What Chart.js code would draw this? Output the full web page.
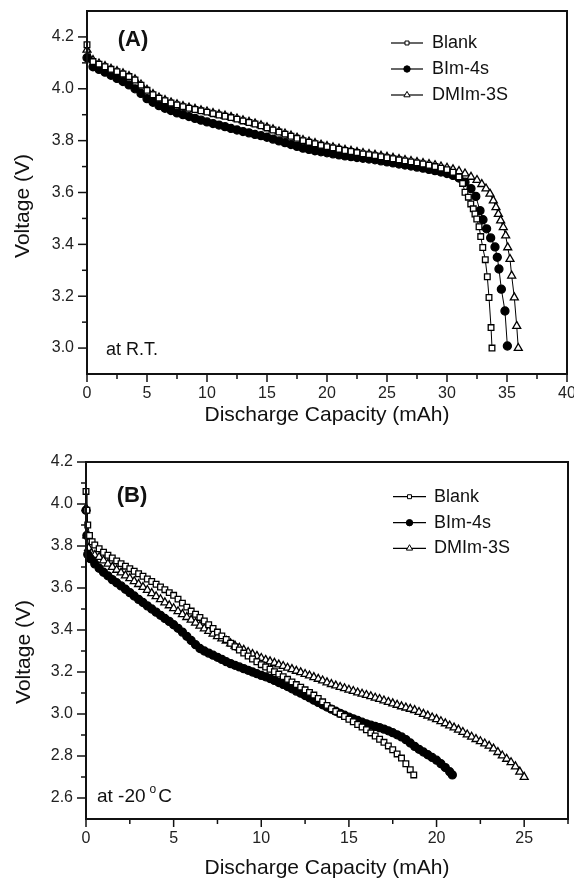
<!DOCTYPE html>
<html><head><meta charset="utf-8">
<script src="https://cdn.jsdelivr.net/npm/chart.js@4.4.0/dist/chart.umd.min.js"></script>
<style>
html,body{margin:0;padding:0;background:#fff;}
#wrap{position:relative;width:574px;height:878px;overflow:hidden;background:#fff;}
canvas{position:absolute;left:0;}
#cA{top:0;} #cB{top:440px;}
</style></head><body>
<div id="wrap"><canvas id="cA" width="574" height="440"></canvas><canvas id="cB" width="574" height="438"></canvas></div>
<script>
// ---------- Panel A (room temperature) ----------
const seriesNames = ['Blank', 'BIm-4s', 'DMIm-3S'];
const xTicksA = [0, 5, 10, 15, 20, 25, 30, 35, 40];
const yTicksA = [3.0, 3.2, 3.4, 3.6, 3.8, 4.0, 4.2];
const xTicksB = [0, 5, 10, 15, 20, 25];
const yTicksB = [2.6, 2.8, 3.0, 3.2, 3.4, 3.6, 3.8, 4.0, 4.2];

const capA_blank = [0,0.5,1,1.5,2,2.5,3,3.5,4,4.5,5,5.5,6,6.5,7,7.5,8,8.5,9,9.5,10,10.5,11,11.5,12,12.5,13,13.5,14,14.5,15,15.5,16,16.5,17,17.5,18,18.5,19,19.5,20,20.5,21,21.5,22,22.5,23,23.5,24,24.5,25,25.5,26,26.5,27,27.5,28,28.5,29,29.5,30,30.5,31,31.3,31.5,31.78,31.98,32.19,32.33,32.48,32.67,32.81,32.98,33.19,33.36,33.5,33.67,33.75];
const voltA_blank = [4.17,4.105,4.095,4.085,4.075,4.066,4.057,4.047,4.034,4.014,3.994,3.977,3.964,3.954,3.945,3.938,3.931,3.925,3.92,3.915,3.91,3.904,3.899,3.894,3.889,3.883,3.876,3.87,3.864,3.857,3.849,3.841,3.833,3.825,3.817,3.809,3.8,3.794,3.788,3.782,3.777,3.772,3.767,3.762,3.758,3.754,3.749,3.746,3.742,3.738,3.734,3.73,3.726,3.722,3.718,3.714,3.71,3.705,3.7,3.694,3.688,3.678,3.66,3.635,3.601,3.582,3.556,3.537,3.517,3.498,3.468,3.43,3.388,3.341,3.275,3.195,3.079,3.0];

const capA_bim = [0,0.5,1,1.5,2,2.5,3,3.5,4,4.5,5,5.5,6,6.5,7,7.5,8,8.5,9,9.5,10,10.5,11,11.5,12,12.5,13,13.5,14,14.5,15,15.5,16,16.5,17,17.5,18,18.5,19,19.5,20,20.5,21,21.5,22,22.5,23,23.5,24,24.5,25,25.5,26,26.5,27,27.5,28,28.5,29,29.5,30,30.5,31,31.5,32,32.4,32.75,33.0,33.3,33.64,34.0,34.19,34.33,34.53,34.83,35.03];
const voltA_bim = [4.12,4.085,4.075,4.064,4.052,4.04,4.028,4.015,4.0,3.982,3.962,3.948,3.935,3.925,3.916,3.907,3.9,3.893,3.886,3.879,3.872,3.866,3.86,3.854,3.847,3.841,3.835,3.83,3.824,3.819,3.813,3.806,3.799,3.792,3.785,3.778,3.771,3.766,3.761,3.757,3.753,3.749,3.745,3.741,3.738,3.735,3.732,3.729,3.726,3.722,3.718,3.714,3.71,3.706,3.702,3.698,3.694,3.689,3.684,3.679,3.673,3.666,3.656,3.64,3.615,3.585,3.53,3.495,3.46,3.425,3.39,3.35,3.305,3.227,3.143,3.008];

const capA_dmim = [0,0.5,1,1.5,2,2.5,3,3.5,4,4.5,5,5.5,6,6.5,7,7.5,8,8.5,9,9.5,10,10.5,11,11.5,12,12.5,13,13.5,14,14.5,15,15.5,16,16.5,17,17.5,18,18.5,19,19.5,20,20.5,21,21.5,22,22.5,23,23.5,24,24.5,25,25.5,26,26.5,27,27.5,28,28.5,29,29.5,30,30.5,31,31.5,32,32.5,32.9,33.25,33.58,33.86,34.08,34.28,34.47,34.69,34.89,35.06,35.25,35.39,35.61,35.81,35.94];
const voltA_dmim = [4.15,4.11,4.097,4.087,4.077,4.068,4.059,4.049,4.036,4.016,3.996,3.979,3.966,3.956,3.947,3.94,3.933,3.927,3.922,3.917,3.912,3.906,3.901,3.896,3.891,3.885,3.878,3.872,3.866,3.859,3.851,3.843,3.835,3.827,3.819,3.811,3.802,3.796,3.79,3.784,3.779,3.774,3.769,3.764,3.76,3.756,3.752,3.748,3.745,3.741,3.737,3.733,3.729,3.725,3.721,3.717,3.713,3.709,3.705,3.7,3.695,3.689,3.682,3.673,3.66,3.648,3.632,3.615,3.595,3.569,3.543,3.517,3.492,3.466,3.434,3.388,3.343,3.279,3.195,3.085,3.0];

// ---------- Panel B (-20 °C) ----------
const capB_blank = [0,0.05,0.1,0.2,0.35,0.5,0.75,1,1.25,1.5,1.75,2,2.25,2.5,2.75,3,3.25,3.5,3.75,4,4.25,4.5,4.75,5,5.25,5.5,5.75,6,6.25,6.5,6.75,7,7.25,7.5,7.75,8,8.25,8.5,8.75,9,9.25,9.5,9.75,10,10.25,10.5,10.75,11,11.25,11.5,11.75,12,12.25,12.5,12.75,13,13.25,13.5,13.75,14,14.25,14.5,14.75,15,15.25,15.5,15.75,16,16.25,16.5,16.75,17,17.25,17.5,17.75,18,18.25,18.5,18.7];
const voltB_blank = [4.06,3.97,3.90,3.85,3.82,3.805,3.787,3.77,3.756,3.743,3.729,3.716,3.704,3.692,3.68,3.668,3.656,3.643,3.631,3.618,3.605,3.592,3.578,3.565,3.547,3.528,3.509,3.49,3.475,3.46,3.443,3.425,3.407,3.39,3.372,3.355,3.337,3.32,3.305,3.29,3.276,3.262,3.249,3.235,3.224,3.213,3.201,3.19,3.178,3.165,3.153,3.14,3.128,3.115,3.103,3.09,3.074,3.058,3.041,3.025,3.012,3.0,2.988,2.975,2.963,2.95,2.938,2.925,2.91,2.895,2.88,2.865,2.848,2.83,2.81,2.79,2.763,2.735,2.71];

const capB_bim = [0,0.05,0.1,0.25,0.5,0.75,1,1.25,1.5,1.75,2,2.25,2.5,2.75,3,3.25,3.5,3.75,4,4.25,4.5,4.75,5,5.25,5.5,5.75,6,6.25,6.5,6.75,7,7.25,7.5,7.75,8,8.25,8.5,8.75,9,9.25,9.5,9.75,10,10.25,10.5,10.75,11,11.25,11.5,11.75,12,12.25,12.5,12.75,13,13.25,13.5,13.75,14,14.25,14.5,14.75,15,15.25,15.5,15.75,16,16.25,16.5,16.75,17,17.25,17.5,17.75,18,18.25,18.5,18.75,19,19.25,19.5,19.75,20,20.25,20.5,20.75,20.9];
const voltB_bim = [3.97,3.85,3.76,3.74,3.715,3.694,3.675,3.658,3.64,3.625,3.61,3.594,3.578,3.562,3.546,3.531,3.515,3.5,3.485,3.47,3.455,3.441,3.425,3.408,3.39,3.37,3.35,3.33,3.312,3.3,3.29,3.28,3.27,3.26,3.249,3.24,3.232,3.224,3.216,3.208,3.2,3.192,3.184,3.177,3.169,3.16,3.15,3.141,3.131,3.12,3.109,3.099,3.088,3.077,3.066,3.055,3.044,3.033,3.023,3.013,3.003,2.994,2.985,2.977,2.969,2.961,2.953,2.947,2.941,2.935,2.928,2.92,2.911,2.901,2.891,2.878,2.862,2.846,2.832,2.819,2.806,2.793,2.78,2.763,2.745,2.725,2.71];

const capB_dmim = [0,0.05,0.15,0.3,0.5,0.75,1,1.25,1.5,1.75,2,2.25,2.5,2.75,3,3.25,3.5,3.75,4,4.25,4.5,4.75,5,5.25,5.5,5.75,6,6.25,6.5,6.75,7,7.25,7.5,7.75,8,8.25,8.5,8.75,9,9.25,9.5,9.75,10,10.25,10.5,10.75,11,11.25,11.5,11.75,12,12.25,12.5,12.75,13,13.25,13.5,13.75,14,14.25,14.5,14.75,15,15.25,15.5,15.75,16,16.25,16.5,16.75,17,17.25,17.5,17.75,18,18.25,18.5,18.75,19,19.25,19.5,19.75,20,20.25,20.5,20.75,21,21.25,21.5,21.75,22,22.25,22.5,22.75,23,23.25,23.5,23.75,24,24.25,24.5,24.75,25];
const voltB_dmim = [3.98,3.85,3.79,3.765,3.757,3.747,3.731,3.715,3.7,3.686,3.673,3.659,3.646,3.632,3.618,3.604,3.59,3.575,3.56,3.546,3.531,3.517,3.503,3.489,3.475,3.461,3.448,3.434,3.42,3.407,3.395,3.382,3.37,3.359,3.348,3.336,3.325,3.315,3.305,3.295,3.285,3.276,3.266,3.257,3.25,3.243,3.235,3.228,3.22,3.213,3.205,3.198,3.19,3.183,3.175,3.167,3.159,3.15,3.142,3.135,3.128,3.122,3.115,3.109,3.102,3.096,3.09,3.084,3.077,3.071,3.064,3.057,3.05,3.043,3.036,3.03,3.024,3.018,3.009,3.0,2.992,2.983,2.975,2.965,2.955,2.945,2.935,2.925,2.914,2.902,2.891,2.88,2.87,2.859,2.848,2.835,2.818,2.802,2.786,2.77,2.75,2.725,2.7];

// ---------- helpers ----------
const FONT = '"Liberation Sans", Arial, Helvetica, sans-serif';
Chart.defaults.font.family = FONT;
Chart.defaults.color = '#1a1a1a';

function pts(xs, ys){ const n = Math.min(xs.length, ys.length); const o=[]; for(let i=0;i<n;i++) o.push({x:xs[i], y:ys[i]}); return o; }
function near(v, list){ return list.some(t => Math.abs(t - v) < 1e-6); }

const styles = [
  {pointStyle:'rect', radius:4.0, bg:'#ffffff', legR:2.8},
  {pointStyle:'circle', radius:4.0, bg:'#000000', legR:3.2},
  {pointStyle:'triangle', radius:4.6, bg:'#ffffff', legR:3.6}
];

function makeDatasets(list){
  return list.map((d,i)=>({
    label: seriesNames[i],
    data: d,
    showLine: true,
    borderColor: '#000',
    borderWidth: 1,
    tension: 0,
    pointStyle: styles[i].pointStyle,
    pointRadius: styles[i].radius,
    pointBackgroundColor: styles[i].bg,
    pointBorderColor: '#000',
    pointBorderWidth: 1.3,
    clip: false
  }));
}

const decor = {
  id: 'decor',
  afterDraw(chart, args, o){
    const ctx = chart.ctx, a = chart.chartArea;
    const xs = chart.scales.x, ys = chart.scales.y;
    ctx.save();
    ctx.strokeStyle = '#111';
    ctx.lineWidth = 1.5;
    xs.ticks.forEach(t=>{
      const major = near(t.value, o.xMajor);
      const p = xs.getPixelForValue(t.value);
      ctx.beginPath(); ctx.moveTo(p, a.bottom); ctx.lineTo(p, a.bottom + (major ? 8 : 5)); ctx.stroke();
    });
    ys.ticks.forEach(t=>{
      const major = near(t.value, o.yMajor);
      if (!major && (Math.abs(t.value - ys.min) < 1e-6 || Math.abs(t.value - ys.max) < 1e-6)) return;
      const p = ys.getPixelForValue(t.value);
      ctx.beginPath(); ctx.moveTo(a.left, p); ctx.lineTo(a.left - (major ? 9 : 5), p); ctx.stroke();
    });
    ctx.lineWidth = 2;
    ctx.strokeRect(a.left, a.top, a.right - a.left, a.bottom - a.top);

    ctx.fillStyle = '#111';
    ctx.font = 'bold 22px ' + FONT;
    ctx.textAlign = 'center'; ctx.textBaseline = 'middle';
    ctx.fillText(o.panel, o.panelX, o.panelY);
    ctx.font = '21px ' + FONT;
    ctx.fillText('Discharge Capacity (mAh)', o.xTitleX, o.xTitleY);
    ctx.save();
    ctx.translate(o.yTitleX, o.yTitleY); ctx.rotate(-Math.PI/2);
    ctx.fillText('Voltage (V)', 0, 0);
    ctx.restore();
    ctx.textAlign = 'left'; ctx.textBaseline = 'alphabetic';
    ctx.font = o.condSize + 'px ' + FONT;
    ctx.fillText(o.cond, o.condX, o.condY);
    if (o.sup){
      let x = o.condX + ctx.measureText(o.cond).width + 4;
      ctx.font = '12px ' + FONT;
      ctx.fillText(o.sup, x, o.condY - 9);
      x += ctx.measureText(o.sup).width + 2;
      ctx.font = o.condSize + 'px ' + FONT;
      ctx.fillText(o.supAfter, x, o.condY);
    }
    chart.data.datasets.forEach((ds,i)=>{
      const y = o.legY[i];
      ctx.strokeStyle = '#000'; ctx.lineWidth = 1.2;
      ctx.beginPath(); ctx.moveTo(o.legX0, y); ctx.lineTo(o.legX1, y); ctx.stroke();
      ctx.fillStyle = styles[i].bg; ctx.strokeStyle = '#000'; ctx.lineWidth = 1;
      Chart.helpers.drawPoint(ctx, {pointStyle: styles[i].pointStyle, radius: styles[i].legR, borderWidth: 1, rotation: 0}, (o.legX0 + o.legX1)/2, y);
      ctx.fillStyle = '#111';
      ctx.font = '18px ' + FONT; ctx.textBaseline = 'middle'; ctx.textAlign = 'left';
      ctx.fillText(ds.label, o.legTextX, y);
    });
    ctx.restore();
  }
};

function makeChart(id, datasets, cfg){
  return new Chart(document.getElementById(id), {
    type: 'scatter',
    data: { datasets },
    options: {
      responsive: false,
      devicePixelRatio: 1,
      animation: false,
      layout: { padding: cfg.pad },
      plugins: { legend: {display:false}, tooltip: {enabled:false}, decor: cfg.decor },
      scales: {
        x: {
          type: 'linear', min: cfg.xmin, max: cfg.xmax,
          grid: { display: false, drawTicks: false },
          border: { display: false },
          ticks: {
            stepSize: 2.5, autoSkip: false, maxRotation: 0, padding: 10,
            color: '#222', font: { size: 16 },
            callback: v => near(v, cfg.decor.xMajor) ? String(Math.round(v)) : ''
          },
          afterFit(s){ s.height = cfg.xh; s.paddingLeft = 0; s.paddingRight = 0; }
        },
        y: {
          type: 'linear', min: cfg.ymin, max: cfg.ymax,
          grid: { display: false, drawTicks: false },
          border: { display: false },
          ticks: {
            stepSize: 0.1, autoSkip: false, padding: 13,
            color: '#222', font: { size: 16 },
            callback: v => near(v, cfg.decor.yMajor) ? v.toFixed(1) : ''
          },
          afterFit(s){ s.width = cfg.yw; s.paddingTop = 0; s.paddingBottom = 0; }
        }
      }
    },
    plugins: [decor]
  });
}

makeChart('cA', makeDatasets([pts(capA_blank, voltA_blank), pts(capA_bim, voltA_bim), pts(capA_dmim, voltA_dmim)]), {
  pad: {top: 11, right: 7, left: 0, bottom: 0},
  xmin: 0, xmax: 40, ymin: 2.9, ymax: 4.3, xh: 66, yw: 87,
  decor: {
    xMajor: xTicksA, yMajor: yTicksA,
    panel: '(A)', panelX: 133, panelY: 39.5,
    xTitleX: 327, xTitleY: 415, yTitleX: 23, yTitleY: 206,
    cond: 'at R.T.', condSize: 18, condX: 106, condY: 355,
    legY: [43, 69, 95], legX0: 391, legX1: 423, legTextX: 432
  }
});

makeChart('cB', makeDatasets([pts(capB_blank, voltB_blank), pts(capB_bim, voltB_bim), pts(capB_dmim, voltB_dmim)]), {
  pad: {top: 22, right: 6, left: 0, bottom: 0},
  xmin: 0, xmax: 27.5, ymin: 2.5, ymax: 4.2, xh: 59, yw: 86,
  decor: {
    xMajor: xTicksB, yMajor: yTicksB,
    panel: '(B)', panelX: 132, panelY: 56,
    xTitleX: 327, xTitleY: 428, yTitleX: 24, yTitleY: 212,
    cond: 'at -20', condSize: 19, condX: 97, condY: 361.7, sup: 'o', supAfter: 'C',
    legY: [56.7, 82.7, 108.3], legX0: 393, legX1: 426, legTextX: 434
  }
});
</script>
</body></html>
